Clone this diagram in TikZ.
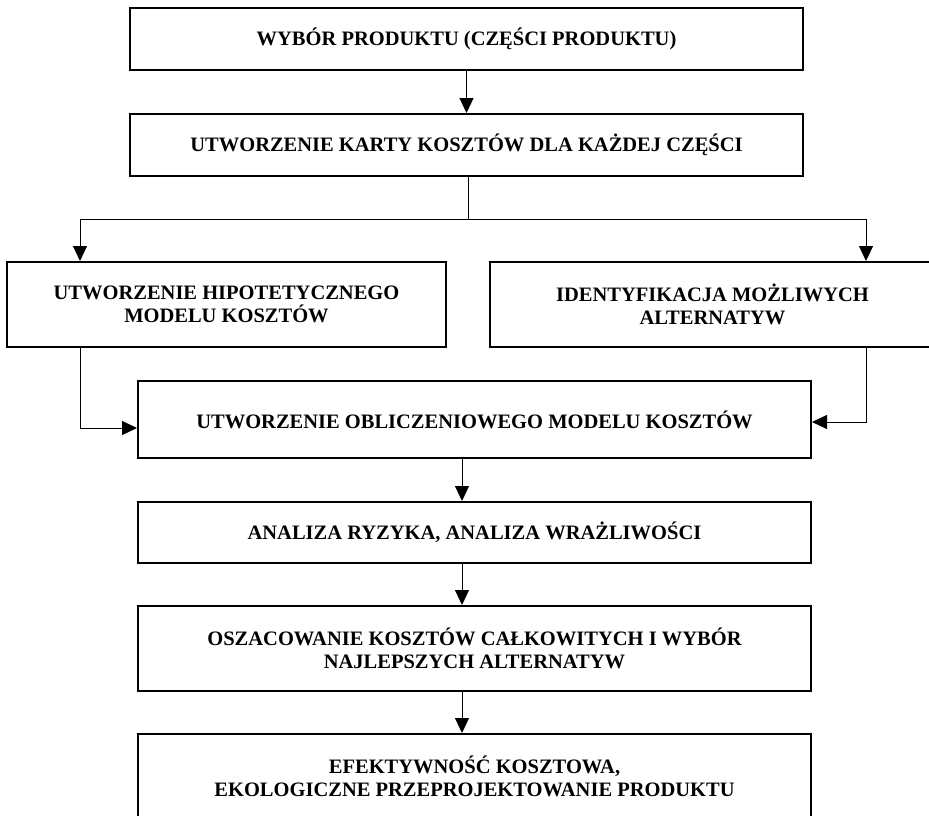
\documentclass[tikz,border=0pt]{standalone}
\usepackage{fontspec}
\setmainfont{Liberation Serif}
\usetikzlibrary{arrows.meta}
\begin{document}
\begin{tikzpicture}[x=1pt,y=-1pt,
  box/.style={draw=black,line width=2pt,fill=white,align=center,inner sep=0pt,
    font=\fontsize{20.5}{23.5}\selectfont\bfseries},
  conn/.style={line width=1pt,-{Triangle[length=15pt,width=14pt]}},
  plain/.style={line width=1pt}]
\useasboundingbox (0,0) rectangle (929,816);
\clip (0,0) rectangle (929,816);
\fill[white] (0,0) rectangle (929,816);
\node[box,minimum width=673pt,minimum height=62pt] (b1) at (466.5,39) {WYBÓR PRODUKTU (CZĘŚCI PRODUKTU)};
\node[box,minimum width=673pt,minimum height=62pt] (b2) at (466.5,145) {UTWORZENIE KARTY KOSZTÓW DLA KAŻDEJ CZĘŚCI};
\node[box,minimum width=439pt,minimum height=85pt] (bl) at (226.5,304.5) {UTWORZENIE HIPOTETYCZNEGO\\MODELU KOSZTÓW};
\node[box,minimum width=445pt,minimum height=85pt] (br) at (712.5,304.5) {IDENTYFIKACJA MOŻLIWYCH\\ALTERNATYW};
\node[box,minimum width=673pt,minimum height=77pt] (bm) at (474.5,419.5) {UTWORZENIE OBLICZENIOWEGO MODELU KOSZTÓW};
\node[box,minimum width=673pt,minimum height=61pt] (ba) at (474.5,532.5) {ANALIZA RYZYKA, ANALIZA WRAŻLIWOŚCI};
\node[box,minimum width=673pt,minimum height=85pt] (bo) at (474.5,648.5) {OSZACOWANIE KOSZTÓW CAŁKOWITYCH I WYBÓR\\NAJLEPSZYCH ALTERNATYW};
\node[box,minimum width=673pt,minimum height=85pt] (be) at (474.5,776.5) {EFEKTYWNOŚĆ KOSZTOWA,\\EKOLOGICZNE PRZEPROJEKTOWANIE PRODUKTU};
\coordinate (split) at (468,219);
\coordinate (lt) at (80,219);
\coordinate (rt) at (866,219);
\coordinate (lj) at (80,428);
\coordinate (rj) at (866,422);
\coordinate (ax) at (462,0);
\draw[conn] (b1.south) -- (b2.north);
\draw[plain] (b2.south -| split) -- (split);
\draw[conn] (split) -- (lt) -- (lt |- bl.north);
\draw[conn] (split) -- (rt) -- (rt |- br.north);
\draw[conn] (bl.south -| lj) -- (lj) -- (lj -| bm.west);
\draw[conn] (br.south -| rj) -- (rj) -- (rj -| bm.east);
\draw[conn] (bm.south -| ax) -- (ba.north -| ax);
\draw[conn] (ba.south -| ax) -- (bo.north -| ax);
\draw[conn] (bo.south -| ax) -- (be.north -| ax);
\end{tikzpicture}
\end{document}
